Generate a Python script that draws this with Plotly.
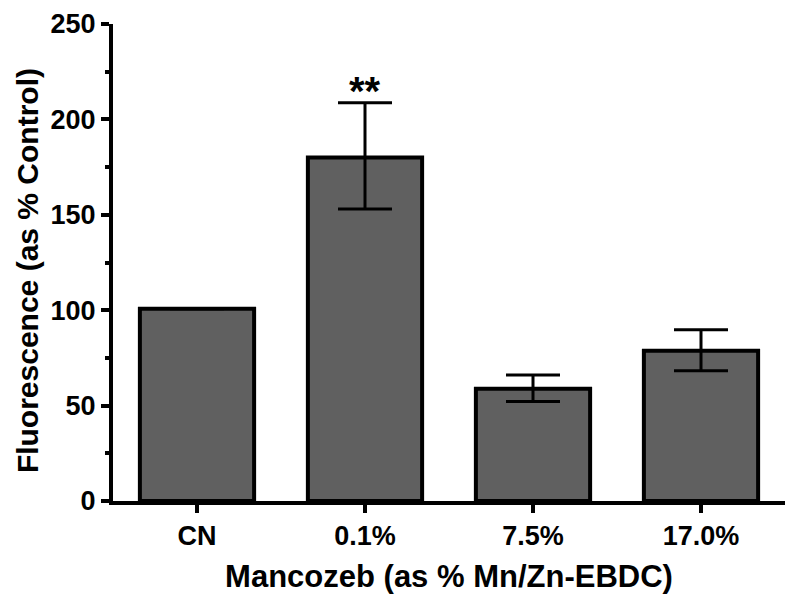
import plotly.graph_objects as go

categories = ["CN", "0.1%", "7.5%", "17.0%"]
values = [100.8, 180.0, 58.8, 78.8]
err_plus = [0.0, 28.7, 7.2, 11.0]
err_minus = [0.0, 27.0, 6.6, 10.6]
y_ticks = [0, 50, 100, 150, 200, 250]
sig_labels = ["", "**", "", ""]

fig = go.Figure()
fig.add_trace(go.Bar(
    x=categories, y=values, width=0.68,
    marker=dict(color="#606060", line=dict(color="black", width=4)),
    error_y=dict(type="data", symmetric=False, array=err_plus, arrayminus=err_minus,
                 color="black", thickness=3, width=27, visible=True),
))

for c, v, e, s in zip(categories, values, err_plus, sig_labels):
    if s:
        fig.add_annotation(x=c, y=v + e, text="<b>" + s + "</b>", showarrow=False, yanchor="bottom",
                           yshift=-12, font=dict(size=40, color="black", family="Liberation Sans, Arial"))

# y-axis title as annotation for precise placement
fig.add_annotation(xref="paper", yref="paper", x=-0.128, y=0.484, text="<b>Fluorescence (as % Control)</b>",
                   textangle=-90, showarrow=False, xanchor="center", yanchor="middle",
                   font=dict(size=30, color="black", family="Liberation Sans, Arial"))

fig.update_layout(
    width=800, height=608,
    margin=dict(l=105, r=23, t=16, b=115),
    plot_bgcolor="white", paper_bgcolor="white",
    showlegend=False,
    font=dict(family="Liberation Sans, Arial", color="black"),
)
fig.update_xaxes(
    range=[-0.5, 3.5], showline=True, linecolor="black", linewidth=4,
    ticks="outside", ticklen=8, tickwidth=4, tickcolor="black",
    tickfont=dict(size=27, family="Liberation Sans, Arial", weight="bold"),
    title=dict(text="<b>Mancozeb (as % Mn/Zn-EBDC)</b>", font=dict(size=31), standoff=16),
    showgrid=False, zeroline=False, automargin=False,
)
fig.update_yaxes(
    range=[0, 250], tickvals=y_ticks, showline=True, linecolor="black", linewidth=4,
    ticks="outside", ticklen=8, tickwidth=4, tickcolor="black",
    tickfont=dict(size=27, family="Liberation Sans, Arial", weight="bold"),
    minor=dict(ticks="outside", ticklen=4, tickwidth=4, tickcolor="black", dtick=25, showgrid=False),
    showgrid=False, zeroline=False, automargin=False,
)

fig.write_html("out.html")
